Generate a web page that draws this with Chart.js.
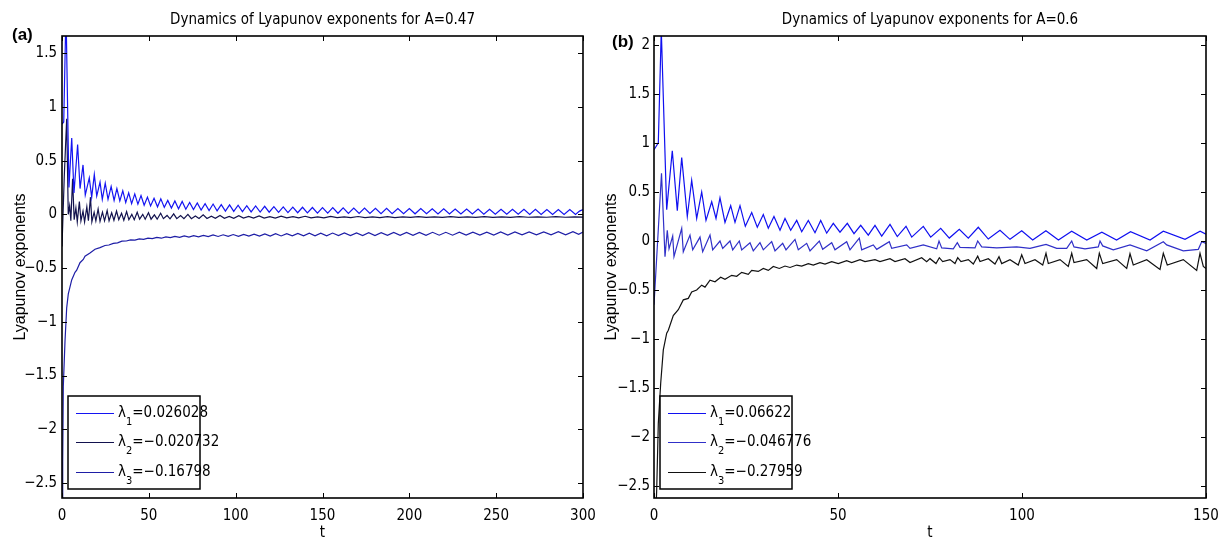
<!DOCTYPE html>
<html>
<head>
<meta charset="utf-8">
<title>Lyapunov exponents</title>
<script src="https://cdn.jsdelivr.net/npm/chart.js@4.4.1/dist/chart.umd.min.js"></script>
<style>
  html, body { margin: 0; padding: 0; background: #fff; }
  body { position: relative; width: 1220px; height: 541px; overflow: hidden; }
  canvas { position: absolute; top: 0; }
  #panelA { left: 0; }
  #panelB { left: 598px; }
</style>
</head>
<body>
<canvas id="panelA" width="598" height="541"></canvas>
<canvas id="panelB" width="622" height="541"></canvas>
<script>
// ---- panel (a): A = 0.47, t in [0, 300] ----
const titleA = 'Dynamics of Lyapunov exponents for A=0.47';
const expA = [0.026028, -0.020732, -0.16798];
const xTicksA = [0, 300, 50];        // min, max, step
const yTicksA = [-2.64, 1.66, 0.5];

// [t, lambda] samples
const lamA1 = [
  [0,0.84],[1.0,0.86],[2.3,1.90],[4.0,0.25],[5.6,0.71],[6.9,0.20],[9.0,0.65],[10.4,0.24],
  [12.1,0.46],[13.4,0.18],[15.7,0.34],[17.1,0.16],[18.6,0.37],[20.0,0.17],[21.9,0.30],[23.2,0.14],
  [24.9,0.29],[26.5,0.14],[28.3,0.26],[30.0,0.13],[31.6,0.24],[33.3,0.125],[35.0,0.22],[36.7,0.11],
  [38.4,0.20],[40.1,0.10],[41.9,0.19],[43.7,0.095],[45.5,0.175],[47.3,0.085],[49.2,0.16],[51.0,0.078],
  [53.0,0.15],[55.0,0.07],[56.9,0.145],[58.9,0.065],[60.9,0.13],[63.0,0.058],[65.0,0.125],[67.1,0.052],
  [69.2,0.12],[71.3,0.048],[73.5,0.11],[75.7,0.044],[77.9,0.106],[80.1,0.04],[82.4,0.10],[84.7,0.036],
  [87.0,0.096],[89.3,0.033],[91.7,0.09],[94.1,0.03],[96.5,0.088],[98.9,0.028],[101.4,0.085],[103.9,0.025],
  [106.4,0.08],[108.9,0.023],[111.5,0.078],[114.1,0.021],[116.7,0.075],[119.3,0.02],[122.0,0.072],[124.7,0.018],
  [127.4,0.07],[130.1,0.016],[132.9,0.068],[135.7,0.015],[138.5,0.066],[141.3,0.013],[144.2,0.064],[147.1,0.012],
  [150.0,0.063],[153.0,0.011],[155.9,0.062],[158.9,0.010],[161.9,0.060],[164.9,0.009],[168.0,0.059],[171.1,0.008],
  [174.2,0.058],[177.3,0.008],[180.5,0.057],[183.7,0.007],[186.9,0.056],[190.1,0.006],[193.4,0.055],[196.7,0.006],
  [200.0,0.054],[203.3,0.005],[206.6,0.053],[209.9,0.005],[213.2,0.052],[216.5,0.004],[219.8,0.051],[223.1,0.004],
  [226.4,0.050],[229.7,0.003],[233.0,0.050],[236.3,0.003],[239.6,0.049],[242.9,0.002],[246.2,0.048],[249.5,0.002],
  [252.8,0.048],[256.1,0.001],[259.4,0.047],[262.7,0.001],[266.0,0.046],[269.3,0.000],[272.6,0.046],[275.9,0.000],
  [279.2,0.045],[282.5,0.000],[285.8,0.045],[289.1,-0.001],[292.4,0.044],[295.7,-0.001],[298.0,0.030],[300.0,0.045]
];
const lamA2 = [
  [0,-0.30],[1.3,0.35],[2.7,0.89],[3.6,0.0],[4.4,0.08],[5.1,-0.06],[6.1,0.33],[7.0,-0.05],
  [8.0,0.06],[8.8,-0.07],[10.0,0.12],[10.9,-0.06],[12.1,0.03],[13.0,-0.07],[14.3,0.07],[15.2,-0.06],
  [16.4,0.16],[17.2,-0.07],[18.5,0.02],[19.5,-0.06],[20.8,0.05],[21.9,-0.065],[23.3,0.02],[24.5,-0.06],
  [26.0,0.035],[27.1,-0.06],[28.6,0.015],[29.9,-0.055],[31.4,0.03],[32.7,-0.05],[34.3,0.01],[35.6,-0.055],
  [37.2,0.025],[38.5,-0.05],[40.2,0.0],[41.6,-0.05],[43.3,0.02],[44.7,-0.045],[46.5,0.0],[47.9,-0.045],
  [49.8,0.015],[51.3,-0.045],[53.2,-0.005],[54.8,-0.045],[56.8,0.01],[58.4,-0.04],[60.5,-0.01],[62.2,-0.042],
  [64.3,0.005],[66.1,-0.04],[68.3,-0.012],[70.2,-0.04],[72.5,0.0],[74.5,-0.04],[76.8,-0.015],[78.9,-0.038],
  [81.3,-0.005],[83.5,-0.038],[86.0,-0.018],[88.3,-0.037],[91.0,-0.01],[93.5,-0.036],[96.3,-0.02],[98.9,-0.036],
  [101.8,-0.012],[104.5,-0.035],[107.5,-0.02],[110.3,-0.035],[113.5,-0.015],[116.4,-0.034],[119.7,-0.022],[122.8,-0.034],
  [126.2,-0.016],[129.4,-0.033],[133.0,-0.022],[136.3,-0.033],[140.0,-0.018],[143.4,-0.032],[147.2,-0.023],[150.8,-0.032],
  [154.7,-0.019],[158.4,-0.031],[162.5,-0.024],[166.3,-0.031],[170.5,-0.02],[174.5,-0.03],[178.8,-0.024],[183.0,-0.03],
  [187.4,-0.021],[191.7,-0.03],[196.2,-0.024],[200.6,-0.029],[205.2,-0.021],[209.7,-0.029],[214.4,-0.024],[219.0,-0.029],
  [223.8,-0.021],[228.5,-0.028],[233.4,-0.024],[238.2,-0.028],[243.2,-0.021],[248.1,-0.028],[253.2,-0.024],[258.2,-0.028],
  [263.4,-0.021],[268.5,-0.027],[273.8,-0.023],[279.0,-0.027],[284.4,-0.021],[289.7,-0.027],[295.2,-0.023],[300.0,-0.026]
];
const lamA3 = [
  [0,-3.0],[0.4,-2.3],[0.75,-1.6],[1.73,-1.18],[2.7,-0.87],[3.63,-0.74],[5.59,-0.61],[7.49,-0.54],
  [8.46,-0.52],[10.36,-0.45],[12.26,-0.42],[13.24,-0.39],[16.12,-0.36],[19.0,-0.325],[21.88,-0.31],[24.76,-0.29],
  [27.0,-0.285],[29.54,-0.27],[32.0,-0.265],[34.5,-0.25],[37.0,-0.248],[39.5,-0.238],[42.0,-0.24],[44.5,-0.228],
  [47.0,-0.232],[49.5,-0.222],[52.0,-0.226],[54.6,-0.215],[57.2,-0.222],[59.8,-0.21],[62.4,-0.217],[65.0,-0.205],
  [67.7,-0.214],[70.4,-0.201],[73.1,-0.211],[75.8,-0.198],[78.6,-0.209],[81.4,-0.195],[84.2,-0.207],[87.0,-0.192],
  [89.9,-0.206],[92.8,-0.19],[95.7,-0.205],[98.6,-0.188],[101.6,-0.204],[104.6,-0.186],[107.6,-0.203],[110.6,-0.184],
  [113.7,-0.203],[116.8,-0.182],[119.9,-0.202],[123.0,-0.18],[126.2,-0.201],[129.4,-0.179],[132.6,-0.2],[135.8,-0.177],
  [139.1,-0.2],[142.4,-0.176],[145.7,-0.199],[149.0,-0.175],[152.4,-0.199],[155.8,-0.174],[159.2,-0.198],[162.6,-0.173],
  [166.1,-0.198],[169.6,-0.172],[173.1,-0.197],[176.6,-0.171],[180.2,-0.197],[183.8,-0.17],[187.4,-0.196],[191.0,-0.169],
  [194.7,-0.196],[198.4,-0.169],[202.1,-0.195],[205.8,-0.168],[209.6,-0.195],[213.4,-0.167],[217.2,-0.194],[221.0,-0.167],
  [224.9,-0.194],[228.8,-0.166],[232.7,-0.193],[236.6,-0.165],[240.6,-0.193],[244.6,-0.165],[248.6,-0.192],[252.6,-0.164],
  [256.7,-0.192],[260.8,-0.164],[264.9,-0.191],[269.0,-0.163],[273.2,-0.191],[277.4,-0.163],[281.6,-0.19],[285.8,-0.162],
  [290.0,-0.19],[294.2,-0.162],[297.5,-0.185],[300.0,-0.165]
];

// ---- panel (b): A = 0.6, t in [0, 150] ----
const titleB = 'Dynamics of Lyapunov exponents for A=0.6';
const expB = [0.06622, -0.046776, -0.27959];
const xTicksB = [0, 150, 50];
const yTicksB = [-2.62, 2.09, 0.5];

const lamB1 = [
  [0,0.93],[1.17,1.0],[1.98,2.15],[3.45,0.32],[4.97,0.92],[6.33,0.31],[7.53,0.85],[9.05,0.25],
  [10.24,0.62],[11.6,0.23],[12.96,0.50],[14.13,0.21],[15.68,0.40],[16.85,0.23],[17.93,0.44],[19.29,0.19],
  [20.84,0.36],[22.01,0.19],[23.37,0.36],[24.81,0.15],[26.55,0.29],[28.07,0.14],[29.7,0.27],[31.06,0.13],
  [32.6,0.25],[34.24,0.11],[35.6,0.23],[37.15,0.11],[38.78,0.21],[40.14,0.095],[41.93,0.21],[43.75,0.085],
  [45.3,0.21],[46.93,0.08],[48.72,0.18],[50.54,0.09],[52.53,0.18],[54.35,0.075],[56.17,0.16],[58.23,0.06],
  [60.05,0.16],[61.88,0.05],[64.13,0.17],[66.11,0.045],[68.48,0.15],[70.03,0.04],[73.18,0.15],[75.19,0.04],
  [77.91,0.13],[80.24,0.03],[82.96,0.12],[85.41,0.03],[88.12,0.14],[90.84,0.02],[94.02,0.11],[96.74,0.017],
  [99.92,0.105],[102.9,0.01],[106.5,0.105],[109.9,0.01],[113.5,0.10],[117.6,0.01],[121.7,0.09],[125.7,0.01],
  [129.5,0.095],[134.8,0.01],[138.4,0.10],[144.3,0.017],[148.4,0.10],[150,0.07]
];
const lamB2 = [
  [0,-0.65],[2.04,0.69],[2.99,-0.16],[3.61,0.11],[4.08,-0.08],[5.08,0.05],[5.43,-0.16],[7.53,0.13],
  [7.96,-0.11],[9.78,0.06],[10.52,-0.09],[12.5,0.04],[13.23,-0.11],[15.22,0.06],[15.95,-0.09],[17.93,0.0],
  [18.67,-0.075],[20.65,0.0],[21.39,-0.09],[23.18,0.0],[23.83,-0.09],[26.09,-0.017],[26.98,-0.1],[28.8,-0.017],
  [29.7,-0.09],[31.98,-0.007],[32.88,-0.1],[34.97,-0.024],[35.87,-0.09],[38.32,0.017],[39.21,-0.09],[41.49,-0.024],
  [42.39,-0.1],[44.92,0.0],[45.84,-0.085],[48.29,-0.017],[49.18,-0.09],[52.36,-0.007],[53.26,-0.09],[55.79,0.03],
  [56.44,-0.09],[59.59,-0.04],[60.52,-0.085],[63.94,-0.007],[64.59,-0.075],[68.67,-0.04],[69.57,-0.075],[73.18,-0.04],
  [76.82,-0.08],[77.45,0.0],[78.18,-0.07],[81.33,-0.08],[82.42,-0.017],[83.15,-0.065],[87.23,-0.07],[87.96,0.0],
  [89.05,-0.06],[93.13,-0.07],[98.56,-0.06],[102.17,-0.075],[106.52,-0.035],[109.43,-0.075],[112.15,-0.075],[113.51,0.0],
  [114.13,-0.06],[117.12,-0.08],[120.73,-0.06],[121.2,0.0],[121.93,-0.05],[124.81,-0.09],[129.35,-0.04],[133.89,-0.1],
  [138.4,-0.007],[139.32,-0.04],[143.83,-0.1],[147.91,-0.085],[148.83,-0.007],[150,-0.025]
];
const lamB3 = [
  [0,-3.3],[0.73,-2.54],[1.17,-1.86],[1.82,-1.45],[2.53,-1.11],[3.45,-0.94],[3.89,-0.91],[5.24,-0.76],
  [6.6,-0.70],[7.96,-0.60],[9.32,-0.585],[10.24,-0.52],[11.6,-0.50],[12.96,-0.45],[13.86,-0.47],[15.22,-0.40],
  [16.58,-0.415],[18.12,-0.37],[19.29,-0.39],[21.11,-0.35],[22.47,-0.36],[23.83,-0.32],[25.62,-0.34],[26.55,-0.30],
  [28.34,-0.31],[29.7,-0.28],[31.06,-0.30],[32.42,-0.26],[34.05,-0.28],[35.6,-0.255],[36.96,-0.27],[38.78,-0.245],
  [40.14,-0.255],[41.93,-0.23],[43.29,-0.245],[45.11,-0.22],[46.47,-0.235],[48.29,-0.21],[50.08,-0.23],[52.36,-0.20],
  [53.72,-0.22],[55.98,-0.19],[57.34,-0.21],[60.05,-0.19],[61.41,-0.21],[64.13,-0.18],[65.49,-0.21],[68.21,-0.18],
  [69.57,-0.22],[72.74,-0.17],[74.1,-0.21],[75,-0.18],[76.63,-0.23],[77.53,-0.17],[78.45,-0.21],[80.43,-0.19],
  [81.79,-0.23],[82.53,-0.17],[83.42,-0.21],[85.41,-0.19],[86.77,-0.235],[87.96,-0.155],[88.59,-0.21],[90.84,-0.18],
  [92.66,-0.235],[93.75,-0.16],[94.48,-0.23],[96.74,-0.19],[98.99,-0.245],[99.92,-0.14],[100.82,-0.23],[103.53,-0.19],
  [105.63,-0.245],[106.52,-0.125],[107.15,-0.23],[110.33,-0.19],[112.58,-0.26],[113.51,-0.125],[114.13,-0.22],[117.58,-0.19],
  [120.3,-0.28],[121.01,-0.125],[121.93,-0.23],[125.73,-0.19],[128.45,-0.28],[129.35,-0.13],[130.24,-0.245],[133.89,-0.19],
  [137.5,-0.29],[138.4,-0.125],[139.48,-0.245],[143.83,-0.19],[147.47,-0.30],[148.37,-0.125],[149.27,-0.26],[150,-0.28]
];

const NARROW = '"Liberation Sans Narrow", "DejaVu Sans Condensed", "Liberation Sans", sans-serif';
const REGULAR = '"Liberation Sans", Arial, sans-serif';
const TICK = 5;

// matlab style minus sign
const fmt = v => String(v).replace('-', '\u2212');

// box, inward ticks, legend, title and panel tag
function frame(cfg) {
  return {
    id: 'frame',
    afterDatasetsDraw(chart) {
      const { ctx, chartArea: a, scales: { x, y } } = chart;
      ctx.save();
      ctx.strokeStyle = '#000';
      ctx.lineWidth = 1;
      ctx.beginPath();
      x.ticks.forEach(t => {
        const px = Math.round(x.getPixelForValue(t.value)) + 0.5;
        ctx.moveTo(px, a.bottom); ctx.lineTo(px, a.bottom - TICK);
        ctx.moveTo(px, a.top); ctx.lineTo(px, a.top + TICK);
      });
      y.ticks.forEach(t => {
        const py = Math.round(y.getPixelForValue(t.value)) + 0.5;
        ctx.moveTo(a.left, py); ctx.lineTo(a.left + TICK, py);
        ctx.moveTo(a.right, py); ctx.lineTo(a.right - TICK, py);
      });
      ctx.stroke();
      ctx.lineWidth = 1.6;
      ctx.strokeRect(a.left, a.top, a.right - a.left, a.bottom - a.top);
      ctx.restore();
    },
    afterDraw(chart) {
      const { ctx, chartArea: a } = chart;
      ctx.save();

      // legend box, lower left of the axes
      const lx = a.left + 6, ly = a.bottom - 102, lw = 132, lh = 93;
      ctx.fillStyle = '#fff';
      ctx.fillRect(lx, ly, lw, lh);
      ctx.strokeStyle = '#000';
      ctx.lineWidth = 1.5;
      ctx.strokeRect(lx, ly, lw, lh);
      chart.data.datasets.forEach((ds, i) => {
        const base = ly + 20.5 + i * 29.7;
        ctx.strokeStyle = ds.borderColor;
        ctx.lineWidth = 1.2;
        ctx.beginPath();
        ctx.moveTo(lx + 8, Math.round(base - 4) + 0.5);
        ctx.lineTo(lx + 46, Math.round(base - 4) + 0.5);
        ctx.stroke();
        ctx.fillStyle = '#000';
        ctx.textAlign = 'left';
        ctx.textBaseline = 'alphabetic';
        let tx = lx + 50;
        ctx.font = `15px ${NARROW}`;
        ctx.fillText('\u03bb', tx, base);
        tx += ctx.measureText('\u03bb').width;
        ctx.font = `11px ${NARROW}`;
        ctx.fillText(String(i + 1), tx, base + 8);
        tx += ctx.measureText(String(i + 1)).width;
        ctx.font = `15px ${NARROW}`;
        ctx.fillText('=' + fmt(cfg.exps[i]), tx, base);
      });

      ctx.fillStyle = '#000';
      ctx.font = `15px ${NARROW}`;
      ctx.textAlign = 'center';
      ctx.fillText(cfg.title, (a.left + a.right) / 2, 24);

      ctx.font = `bold 17px ${REGULAR}`;
      ctx.textAlign = 'left';
      ctx.fillText(cfg.tag, cfg.tagX, cfg.tagY);
      ctx.restore();
    }
  };
}

function panel(id, cfg) {
  return new Chart(document.getElementById(id), {
    type: 'line',
    data: {
      datasets: cfg.series.map((s, i) => ({
        label: '\u03bb' + (i + 1) + '=' + fmt(cfg.exps[i]),
        data: s.map(([t, v]) => ({ x: t, y: v })),
        borderColor: cfg.colors[i],
        borderWidth: 1.2,
        pointRadius: 0,
        tension: 0,
        fill: false
      }))
    },
    options: {
      responsive: false,
      animation: false,
      devicePixelRatio: 1,
      layout: { padding: { top: 36, right: cfg.padRight, bottom: 0, left: 0 } },
      plugins: { legend: { display: false }, tooltip: { enabled: false }, title: { display: false } },
      scales: {
        x: {
          type: 'linear',
          min: cfg.xTicks[0], max: cfg.xTicks[1],
          grid: { display: false, drawTicks: false },
          border: { display: false },
          ticks: {
            stepSize: cfg.xTicks[2], autoSkip: false, maxRotation: 0, includeBounds: false,
            padding: 9, color: '#000', font: { family: NARROW, size: 15 }, callback: fmt
          },
          title: { display: true, text: 't', color: '#000', padding: 0,
                   font: { family: NARROW, size: 15, lineHeight: 1 } },
          // fixed box: the end labels must not squeeze the plot area
          afterFit: s => { s.height = 43; s.paddingLeft = 0; s.paddingRight = 0; }
        },
        y: {
          type: 'linear',
          min: cfg.yTicks[0], max: cfg.yTicks[1],
          grid: { display: false, drawTicks: false },
          border: { display: false },
          ticks: {
            stepSize: cfg.yTicks[2], autoSkip: false, includeBounds: false,
            padding: cfg.yPad, color: '#000', font: { family: NARROW, size: 15 }, callback: fmt
          },
          title: { display: true, text: 'Lyapunov exponents', color: '#000',
                   padding: { top: cfg.yTitlePad, bottom: 0 },
                   font: { family: REGULAR, size: 16 } },
          afterFit: s => { s.width = cfg.yWidth; s.paddingTop = 0; s.paddingBottom = 0; }
        }
      }
    },
    plugins: [frame(cfg)]
  });
}

panel('panelA', {
  series: [lamA1, lamA2, lamA3],
  colors: ['#1414f2', '#12124e', '#1e1ea6'],
  exps: expA, title: titleA, tag: '(a)', tagX: 12, tagY: 40,
  xTicks: xTicksA, yTicks: yTicksA,
  yWidth: 62, padRight: 15, yPad: 5, yTitlePad: 11
});

panel('panelB', {
  series: [lamB1, lamB2, lamB3],
  colors: ['#1010f0', '#3030c8', '#111111'],
  exps: expB, title: titleB, tag: '(b)', tagX: 14, tagY: 46.5,
  xTicks: xTicksB, yTicks: yTicksB,
  yWidth: 56, padRight: 14, yPad: 4, yTitlePad: 3.5
});
</script>
</body>
</html>
